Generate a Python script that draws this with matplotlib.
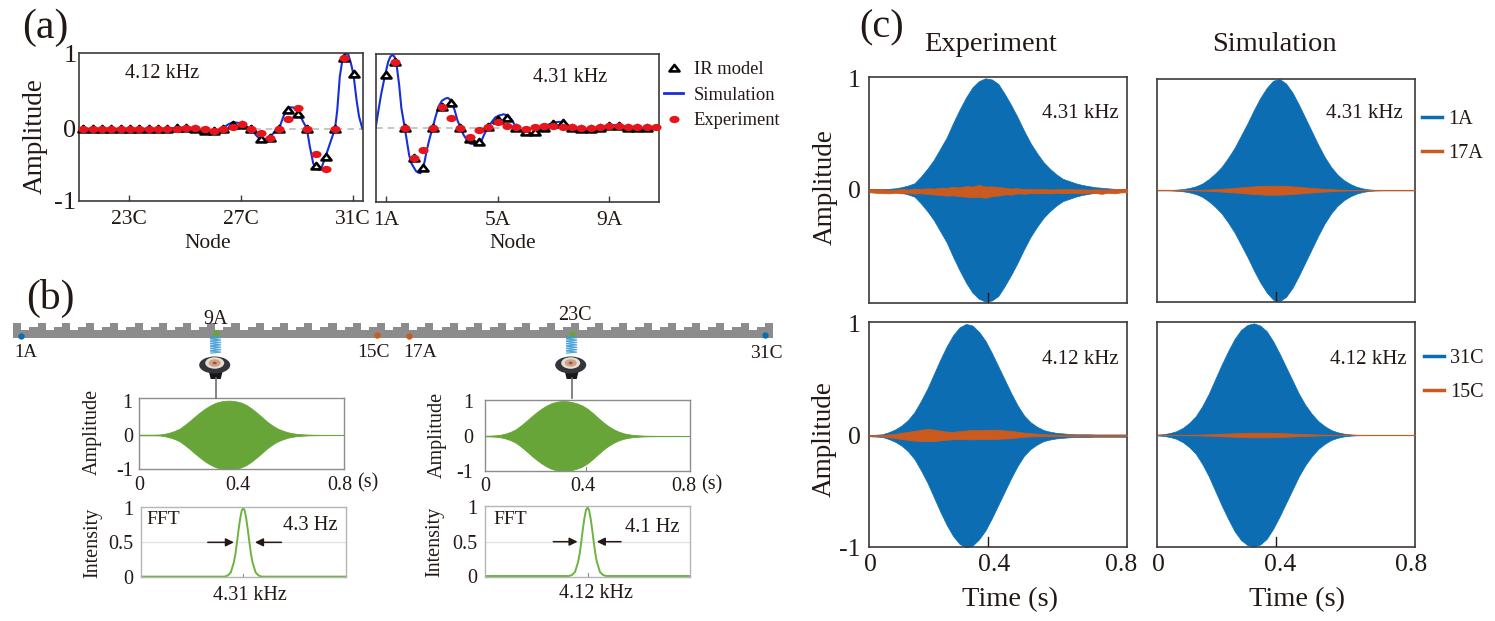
import numpy as np
import matplotlib
matplotlib.use("Agg")
import matplotlib.pyplot as plt
from matplotlib.patches import Ellipse, Polygon
from matplotlib.path import Path
from matplotlib.markers import MarkerStyle
from matplotlib.transforms import Affine2D
from matplotlib.lines import Line2D

W, H = 1495, 621
plt.rcParams["font.family"] = ["Liberation Serif", "DejaVu Serif"]
INK = "#231815"
plt.rcParams["text.color"] = INK
plt.rcParams["axes.labelcolor"] = INK
plt.rcParams["xtick.labelcolor"] = INK
plt.rcParams["ytick.labelcolor"] = INK

BLUE = "#0d6db3"
ORANGE = "#cb5a1e"
GREEN = "#67a538"
LINE_GREEN = "#6cb33f"

# (a) node profiles, one sample per lattice site (3 sites per node)
c_ir = [0, -0.005, -0.005, -0.005, 0, 0, -0.005, -0.01, -0.01, -0.005, 0.01, 0.005, 0, -0.03, -0.03,
        0, 0.055, 0.05, 0, -0.14, -0.12, 0, 0.25, 0.19, 0, -0.49, -0.38, 0, 0.94, 0.72]
c_exp = [-0.005, -0.005, -0.005, -0.005, 0, 0, -0.005, -0.01, -0.01, -0.005, -0.01, 0.01, 0.005, -0.01, -0.03,
         -0.01, 0.02, 0.06, 0, -0.055, -0.125, -0.01, 0.125, 0.27, 0, -0.34, -0.53, 0, 0.94]
c_sim_x = [21.21, 24.33, 24.69, 25.03, 25.36, 25.69, 25.86, 26.03, 26.36, 26.54, 26.69, 26.86, 27.03, 27.2, 27.36,
           27.53, 27.7, 27.85, 28.03, 28.21, 28.36, 28.51, 28.63, 28.74, 28.86, 29.03, 29.19, 29.35, 29.46, 29.58,
           29.7, 29.79, 29.88, 30.02, 30.18, 30.36, 30.44, 30.53, 30.63, 30.75, 30.83, 30.93, 31.02, 31.13,
           31.22, 31.34]
c_sim = [0, 0, 0.013, 0.018, 0, -0.03, -0.044, -0.03, 0.01, 0.058, 0.084, 0.08, 0.062, 0.027, 0, -0.084,
         -0.15, -0.142, -0.106, -0.04, 0, 0.16, 0.248, 0.283, 0.283, 0.226, 0.115, 0, -0.24, -0.46, -0.527,
         -0.549, -0.513, -0.372, -0.195, 0, 0.248, 0.69, 0.93, 1.0, 0.99, 0.867, 0.72, 0.38, 0.16, 0]

a_ir = [0.72, 0.91, 0, -0.42, -0.55, 0, 0.28, 0.34, 0, -0.15, -0.2, 0.01, 0.105, 0.13, 0, -0.055, -0.065,
        0, 0.045, 0.06, 0, -0.015, -0.02, 0, 0.03, 0.03, 0, -0.005, -0.005]
a_exp = [0.91, 0, -0.42, -0.31, 0, 0.28, 0.13, 0, -0.13, -0.03, 0.01, 0.08, 0.03, 0.01, -0.015, 0.01, 0.02,
         0.03, 0.01, 0.01, 0, 0, 0.01, 0.02, 0.02, 0.015, 0.01, 0.01, 0.01]
a_sim_x = [0.63, 0.72, 0.82, 0.92, 1.0, 1.08, 1.16, 1.23, 1.3, 1.38, 1.47, 1.55, 1.67, 1.75, 1.83, 1.91, 2.0,
           2.08, 2.17, 2.23, 2.3, 2.38, 2.46, 2.56, 2.67, 2.76, 2.88, 3.0, 3.12, 3.21, 3.29, 3.38, 3.46, 3.56,
           3.67, 3.78, 3.9, 4.02, 4.31, 4.4, 4.52, 4.67, 4.79, 4.91, 5.03, 5.21, 5.38, 5.55, 5.67, 5.83, 6.0,
           6.22, 6.4, 6.53, 6.67, 6.83, 7.0, 7.17, 7.33, 7.67, 8.0, 8.37, 8.7, 9.03, 9.37, 9.7, 10.03, 10.37,
           10.72]
a_sim = [0, 0.22, 0.45, 0.64, 0.78, 0.91, 0.98, 1.0, 0.98, 0.86, 0.59, 0.27, 0, -0.19, -0.38, -0.49, -0.55,
         -0.6, -0.62, -0.625, -0.58, -0.47, -0.31, -0.15, 0, 0.13, 0.29, 0.37, 0.4, 0.41, 0.39, 0.32, 0.24, 0.1,
         0, -0.1, -0.17, -0.22, -0.23, -0.2, -0.09, 0.015, 0.08, 0.14, 0.165, 0.185, 0.165, 0.08, 0, -0.04,
         -0.07, -0.09, -0.07, -0.03, 0.01, 0.045, 0.07, 0.08, 0.08, 0, -0.02, -0.02, 0.01, 0.035, 0.035, 0,
         -0.005, 0, 0]

# (b) driving pulses and FFT
drive_t = np.arange(0, 0.81, 0.02)
drive_9a = [0.01, 0.01, 0.01, 0.01, 0.015, 0.035, 0.07, 0.12, 0.19, 0.30, 0.42, 0.55, 0.67, 0.78, 0.87, 0.94,
            0.98, 1.0, 1.0, 0.98, 0.94, 0.87, 0.77, 0.65, 0.52, 0.39, 0.28, 0.19, 0.13, 0.08, 0.05, 0.03, 0.02,
            0.012, 0.008, 0.005, 0.004, 0.004, 0.004, 0.004, 0.004]
drive_23c = [0.01, 0.012, 0.02, 0.035, 0.07, 0.12, 0.19, 0.30, 0.42, 0.55, 0.67, 0.78, 0.87, 0.94, 0.98, 1.0,
             0.995, 0.97, 0.93, 0.87, 0.78, 0.66, 0.53, 0.40, 0.29, 0.20, 0.13, 0.08, 0.05, 0.03, 0.02, 0.012,
             0.008, 0.006, 0.005, 0.005, 0.005, 0.005, 0.004, 0.004, 0.004]
fft_df = [-33, -6, -5, -4, -3, -2.5, -2, -1.5, -1, -0.5, 0, 0.5, 1, 1.5, 2, 2.5, 3, 4, 5, 6, 33]
fft_i = [0, 0, 0.015, 0.06, 0.21, 0.33, 0.5, 0.68, 0.84, 0.96, 1, 0.96, 0.84, 0.68, 0.5, 0.33, 0.21, 0.06,
         0.015, 0, 0]

# (c) envelopes of the recorded signals
env_t = np.arange(0, 0.81, 0.02)
exp_1a = [0.01, 0.01, 0.01, 0.01, 0.015, 0.025, 0.04, 0.06, 0.12, 0.19, 0.27, 0.37, 0.47, 0.60, 0.72, 0.83, 0.92,
          0.975, 1.0, 0.99, 0.95, 0.86, 0.76, 0.65, 0.53, 0.42, 0.33, 0.25, 0.19, 0.14, 0.10, 0.08, 0.06, 0.045,
          0.035, 0.025, 0.02, 0.015, 0.01, 0.01, 0.01]
exp_17a_hi = [0.01, 0.005, 0.008, 0.0, 0.002, 0.008, 0.004, 0.012, 0.008, 0.015, 0.012, 0.02, 0.018, 0.028, 0.022,
              0.035, 0.03, 0.045, 0.03, 0.032, 0.025, 0.02, 0.012, 0.016, 0.008, 0.01, 0.006, 0.008, 0.004, 0.007,
              0.005, 0.008, 0.004, 0.006, 0.003, 0.006, 0.004, 0.005, 0.006, 0.008, 0.01]
exp_17a_lo = [-0.02, -0.025, -0.028, -0.03, -0.025, -0.03, -0.028, -0.032, -0.03, -0.035, -0.04, -0.045, -0.05,
              -0.048, -0.055, -0.06, -0.065, -0.06, -0.07, -0.055, -0.05, -0.04, -0.042, -0.03, -0.034, -0.028,
              -0.03, -0.026, -0.03, -0.024, -0.028, -0.025, -0.027, -0.03, -0.024, -0.026, -0.035, -0.025, -0.03,
              -0.022, -0.02]
sim_1a = [0, 0, 0.001, 0.005, 0.01, 0.02, 0.035, 0.06, 0.10, 0.15, 0.21, 0.29, 0.38, 0.49, 0.60, 0.72, 0.83, 0.92,
          0.985, 1.0, 0.96, 0.88, 0.77, 0.65, 0.53, 0.41, 0.30, 0.21, 0.14, 0.09, 0.055, 0.03, 0.015, 0.006, 0.002,
          0.0005, 0, 0, 0, 0, 0]
sim_17a = [0, 0, 0, 0, 0, 0.001, 0.002, 0.004, 0.006, 0.009, 0.012, 0.016, 0.02, 0.025, 0.03, 0.034, 0.037, 0.04,
           0.04, 0.04, 0.038, 0.034, 0.03, 0.025, 0.02, 0.016, 0.012, 0.009, 0.006, 0.004, 0.002, 0.001, 0.001, 0, 0,
           0, 0, 0, 0, 0, 0]
exp_31c = [0.005, 0.008, 0.012, 0.03, 0.055, 0.09, 0.14, 0.21, 0.31, 0.42, 0.55, 0.68, 0.80, 0.90, 0.97, 1.0, 0.985,
           0.93, 0.85, 0.74, 0.62, 0.50, 0.38, 0.27, 0.18, 0.12, 0.08, 0.05, 0.035, 0.025, 0.02, 0.015, 0.012, 0.012,
           0.012, 0.01, 0.01, 0.01, 0.01, 0.01, 0.01]
exp_15c_hi = [0.004, 0.004, 0.006, 0.01, 0.016, 0.025, 0.033, 0.042, 0.052, 0.06, 0.054, 0.045, 0.035, 0.033, 0.04,
              0.046, 0.05, 0.048, 0.05, 0.052, 0.052, 0.046, 0.042, 0.034, 0.026, 0.02, 0.018, 0.012, 0.01, 0.008,
              0.008, 0.008, 0.008, 0.008, 0.008, 0.008, 0.008, 0.008, 0.008, 0.008, 0.008]
exp_15c_lo = [-0.003, -0.004, -0.008, -0.014, -0.022, -0.03, -0.038, -0.044, -0.048, -0.048, -0.048, -0.042, -0.036,
              -0.032, -0.03, -0.032, -0.033, -0.03, -0.03, -0.03, -0.028, -0.026, -0.022, -0.016, -0.01, -0.007,
              -0.006, -0.005, -0.005, -0.005, -0.005, -0.005, -0.005, -0.005, -0.005, -0.005, -0.005, -0.005, -0.005,
              -0.005, -0.005]
sim_31c = [0.004, 0.008, 0.018, 0.035, 0.065, 0.11, 0.17, 0.26, 0.37, 0.50, 0.63, 0.75, 0.86, 0.94, 0.985, 1.0, 0.98,
           0.93, 0.84, 0.73, 0.61, 0.49, 0.37, 0.27, 0.19, 0.125, 0.08, 0.045, 0.025, 0.012, 0.006, 0.002, 0.001, 0,
           0, 0, 0, 0, 0, 0, 0]
sim_15c = [0, 0, 0, 0, 0.001, 0.002, 0.003, 0.004, 0.006, 0.008, 0.011, 0.013, 0.015, 0.017, 0.019, 0.02, 0.02, 0.02,
           0.019, 0.017, 0.015, 0.012, 0.01, 0.008, 0.006, 0.004, 0.003, 0.002, 0.001, 0, 0, 0, 0, 0, 0, 0, 0, 0, 0, 0,
           0]

# schematic: where the marked sites sit along the beam (px)
beam_x0, beam_x1, tooth_w = 13.3, 773, 8.08
tooth_top = [323.3, 330, 327]
beam_bottom = 338
sites = [("1A", 21.3, 336, BLUE, 26, 350, 13.5), ("9A", 215.7, 333.3, GREEN, 216, 316.5, 14.5),
         ("15C", 376.7, 334.7, ORANGE, 373, 350, 14), ("17A", 409, 336, ORANGE, 420, 350, 14),
         ("23C", 571.7, 334.3, GREEN, 575, 313, 14.5), ("31C", 765, 334.7, BLUE, 766.7, 350.5, 14)]


def make_ax(x0, x1, y0, y1, edge="#3d3a39", lw=1.2):
    ax = fig.add_axes([x0 / W, 1 - y1 / H, (x1 - x0) / W, (y1 - y0) / H])
    for s in ax.spines.values():
        s.set_color(edge)
        s.set_linewidth(lw)
    ax.box_px = (x0, x1, y0, y1)
    return ax


def put_ylabel(ax, text, size, x, y):
    # label centre given in figure pixels
    x0, x1, y0, y1 = ax.box_px
    ax.set_ylabel(text, fontsize=size, va="center")
    ax.yaxis.set_label_coords((x - x0) / (x1 - x0), (y1 - y) / (y1 - y0))


def put_xlabel(ax, text, size, x, y):
    x0, x1, y0, y1 = ax.box_px
    ax.set_xlabel(text, fontsize=size, va="center")
    ax.xaxis.set_label_coords((x - x0) / (x1 - x0), (y1 - y) / (y1 - y0))


fig = plt.figure(figsize=(W / 100, H / 100), dpi=100, facecolor="white")

tri = Path([(-1.55, -0.9), (1.55, -0.9), (0, 1.1), (-1.55, -0.9)], closed=True)
dot = MarkerStyle("o", transform=Affine2D().scale(1.4, 1.0))
TRI_STYLE = dict(ls="none", marker=tri, ms=7.2, mfc="white", mec="black", mew=1.9)
DOT_STYLE = dict(ls="none", marker=dot, ms=5.2, mfc="#e8141c", mec="none")


def profile(ax, start, ir, sim_x, sim):
    ax.axhline(0, color="#bdbdbd", lw=1.2, ls=(0, (4, 3)), zorder=1)
    ax.plot(sim_x, sim, color="#1530d8", lw=1.5, zorder=2)
    ax.plot(start + np.arange(len(ir)) / 3, ir, zorder=3, clip_on=False, **TRI_STYLE)
    ax.tick_params(axis="x", direction="in", length=4, width=1, color="#3d3a39", labelsize=15.5, pad=7)
    ax.tick_params(axis="y", length=0, labelsize=19, pad=2)


# panel a
ax = make_ax(79.3, 362.7, 52.7, 200.7)
profile(ax, 21.36, c_ir, c_sim_x, c_sim)
ax.plot(21.36 + np.arange(len(c_exp)) / 3, c_exp, zorder=4, clip_on=False, **DOT_STYLE)
ax.set_xlim(21.21, 31.35)
ax.set_ylim(-0.956, 1.009)
ax.set_xticks([23, 27, 31], ["23C", "27C", "31C"])
ax.set_yticks([-0.956, 0, 1], ["-1", "0", "1"])
put_xlabel(ax, "Node", 15.5, 208, 243)
put_ylabel(ax, "Amplitude", 19.5, 35, 136)

ax = make_ax(375.7, 659, 54, 201.7)
profile(ax, 1.0, a_ir, a_sim_x, a_sim)
ax.plot(1 + (1 + np.arange(len(a_exp))) / 3, a_exp, zorder=4, clip_on=False, **DOT_STYLE)
ax.set_xlim(0.63, 10.78)
ax.set_ylim(-1.018, 1.014)
ax.set_xticks([1, 5, 9], ["1A", "5A", "9A"])
ax.set_yticks([])
put_xlabel(ax, "Node", 15.5, 513, 243)

handles = [Line2D([], [], **TRI_STYLE),
           Line2D([], [], color="#1530d8", lw=2),
           Line2D([], [], **DOT_STYLE)]
fig.legend(handles, ["IR model", "Simulation", "Experiment"], loc="upper left",
           bbox_to_anchor=(664 / W, 1 - 61 / H), frameon=False, fontsize=13.3, handlelength=1.05, handletextpad=0.55,
           labelspacing=0.47, borderpad=0, borderaxespad=0)


# panel b
def drive_panel(x0, x1, y0, y1, env, top, bottom, label_pos, ypad):
    ax = make_ax(x0, x1, y0, y1, edge="#8c8c8c", lw=1)
    ax.fill_between(drive_t, -np.array(env), env, color=GREEN, lw=0.6)
    ax.set_xlim(0, 0.8)
    ax.set_ylim(bottom, top)
    ax.set_xticks(label_pos, ["0", "0.4", "0.8"])
    ax.set_yticks([-1, 0, 1], ["-1", "0", "1"])
    ax.tick_params(length=0, labelsize=14.5)
    ax.tick_params(axis="x", pad=4.5)
    ax.tick_params(axis="y", pad=ypad)
    return ax


def fft_panel(x0, x1, y0, y1):
    ax = make_ax(x0, x1, y0, y1, edge="#b5b5b5", lw=1)
    ax.axhline(0.5, color="#e4e4e4", lw=1)
    ax.plot(fft_df, fft_i, color=LINE_GREEN, lw=1.4)
    ax.plot([0, 0], [0, 0.045], color="#8c8c8c", lw=0.8)
    ax.set_xlim(-33, 33)
    ax.set_ylim(-0.01, 1.02)
    ax.set_xticks([])
    ax.set_yticks([0, 0.5, 1], ["0", "0.5", "1"])
    ax.tick_params(length=0, labelsize=14.5, pad=5.5)
    return ax


def arrows(ax, a0, a1, b0, b1):
    for start, end in ((a0, a1), (b0, b1)):
        ax.annotate("", xy=(end, 0.5), xytext=(start, 0.5),
                    arrowprops=dict(arrowstyle="-|>", color="#231815", lw=1.1, mutation_scale=12, shrinkA=0, shrinkB=0))


ax = drive_panel(139, 344, 398.3, 469.3, drive_9a, 1.07, -1.0, [0, 0.385, 0.785], 4.5)
put_ylabel(ax, "Amplitude", 14.5, 92, 432)
ax = fft_panel(140.7, 345.7, 506.7, 577.3)
put_ylabel(ax, "Intensity", 14.5, 93, 543)
arrows(ax, -11.4, -3, 12.3, 3.8)

ax = drive_panel(485, 690, 400, 471, drive_23c, 1.03, -1.0, [0, 0.382, 0.777], 8.5)
ax.plot([0.395, 0.395], [-1, -0.88], color="#8c8c8c", lw=0.8)
put_ylabel(ax, "Amplitude", 14.5, 437, 435)
ax = fft_panel(485, 690, 506, 576.7)
put_ylabel(ax, "Intensity", 14.5, 435, 542)
arrows(ax, -11, -3.2, 10.8, 3)


# panel c
def wave_panel(x0, x1, y0, y1, ylim, big, small_hi, small_lo, label_ticks, mark):
    ax = make_ax(x0, x1, y0, y1)
    ax.plot([0, 0.8], [0, 0], color="#eab79b", lw=1, zorder=1)
    ax.fill_between(env_t, -np.array(big), big, color=BLUE, lw=0.5, zorder=2)
    ax.fill_between(env_t, small_lo, small_hi, color=ORANGE, lw=0.6, zorder=3)
    ax.set_xlim(0, 0.8)
    ax.set_ylim(*ylim)
    ax.plot([mark, mark], [ylim[0], ylim[0] + 0.09], color="#231815", lw=1, zorder=4)
    if label_ticks:
        ax.set_xticks(label_ticks, ["0", "0.4", "0.8"])
    else:
        ax.set_xticks([])
    ax.tick_params(length=0, labelsize=18.5, pad=5)
    return ax


ax = wave_panel(869.3, 1127.3, 77.3, 303.3, (-1.015, 1.009), exp_1a, exp_17a_hi, exp_17a_lo, None, 0.367)
ax.set_yticks([0, 1], ["0", "1"])
ax.tick_params(axis="y", pad=6)
put_ylabel(ax, "Amplitude", 19.5, 825, 187)

ax = wave_panel(1157.3, 1414.7, 78.7, 302, (-1.006, 1.003), sim_1a, sim_17a, -np.array(sim_17a), None, 0.369)
ax.set_yticks([])

ax = wave_panel(869.3, 1127.3, 321.7, 547.3, (-1.0, 1.02), exp_31c, exp_15c_hi, exp_15c_lo, [0.004, 0.388, 0.78], 0.367)
ax.set_yticks([-1, 0, 1], ["-1", "0", "1"])
ax.tick_params(axis="y", pad=6)
put_ylabel(ax, "Amplitude", 19.5, 824, 439)
put_xlabel(ax, "Time (s)", 20.5, 1010, 600)

ax = wave_panel(1157.3, 1414.7, 322, 546.7, (-1.0, 1.012), sim_31c, sim_15c, -np.array(sim_15c), [0.003, 0.383, 0.79], 0.369)
ax.set_yticks([])
put_xlabel(ax, "Time (s)", 20.5, 1297, 600)

for labels, top, x_left in ((["1A", "17A"], 110, 1421.7), (["31C", "15C"], 349, 1424)):
    hs = [Line2D([], [], color=BLUE, lw=2.5), Line2D([], [], color=ORANGE, lw=2.5)]
    fig.legend(hs, labels, loc="upper left", bbox_to_anchor=(x_left / W, 1 - top / H), frameon=False, fontsize=14.5,
               handlelength=1.0, handletextpad=0.3, labelspacing=0.72, borderpad=0, borderaxespad=0)

# overlay in pixel coordinates for the schematic and loose text
ov = fig.add_axes([0, 0, 1, 1], zorder=5)
ov.set_xlim(0, W)
ov.set_ylim(H, 0)
ov.axis("off")
ov.patch.set_alpha(0)

# toothed beam
outline = [(beam_x0, beam_bottom)]
n_sites = int(round((beam_x1 - beam_x0) / tooth_w))
for i in range(n_sites):
    top = tooth_top[i % 3]
    outline += [(beam_x0 + i * tooth_w, top), (beam_x0 + (i + 1) * tooth_w, top)]
outline.append((beam_x0 + n_sites * tooth_w, beam_bottom))
ov.add_patch(Polygon(outline, closed=True, facecolor="#8c8c8c", edgecolor="none"))

for name, x, y, color, tx, ty, size in sites:
    ov.plot(x, y, "o", color=color, ms=4.6, mec="none")
    ov.text(tx, ty + 2.5, name, fontsize=size, ha="center", va="center")

# spring, speaker and stem under the two driven sites
for cx in (215.7, 571.7):
    for y in np.arange(336.5, 352, 2.4):
        ov.plot([cx - 5, cx + 5, cx - 5], [y, y + 1.2, y + 2.2], color="#3f9bd6", lw=0.9, alpha=0.9)
    ov.plot([cx, cx], [378, 398], color="#6e6e6e", lw=1.2)
    ov.add_patch(Polygon([(cx - 7, 371), (cx + 7, 371), (cx + 5, 379), (cx - 5, 379)], closed=True, fc="#17171b", ec="none"))
    ov.add_patch(Ellipse((cx - 1, 365), 31, 17, fc="#34353c", ec="none"))
    ov.add_patch(Ellipse((cx - 1, 363), 19, 11.5, fc="#e6ddd5", ec="none"))
    ov.add_patch(Ellipse((cx - 1, 363), 12, 7.5, fc="#d2a184", ec="none"))
    ov.add_patch(Ellipse((cx - 1, 363), 4, 2.6, fc="#8a5a45", ec="none"))

notes = [("(a)", 45, 28, 30), ("(b)", 50.7, 298, 30), ("(c)", 881.7, 28, 29),
         ("Experiment", 990.7, 44.5, 20.5), ("Simulation", 1274, 44.5, 20.5),
         ("4.12 kHz", 162, 74, 14.6), ("4.31 kHz", 570, 78, 14.6),
         ("4.31 kHz", 1080.7, 113.5, 15), ("4.31 kHz", 1364, 114, 15),
         ("4.12 kHz", 1080.7, 360, 15), ("4.12 kHz", 1368, 359.5, 15),
         ("(s)", 367.7, 483, 14.5), ("(s)", 712, 485, 14.5),
         ("FFT", 163.5, 519, 14), ("FFT", 510, 519, 14),
         ("4.3 Hz", 310.7, 525.5, 14.8), ("4.1 Hz", 652, 528, 14.8),
         ("4.31 kHz", 250, 595, 14.5), ("4.12 kHz", 596, 594, 14.5)]
for s, x, y, size in notes:
    ov.text(x, y, s, fontsize=size, ha="center", va="center")

fig.savefig("out.png", dpi=100, facecolor="white")
